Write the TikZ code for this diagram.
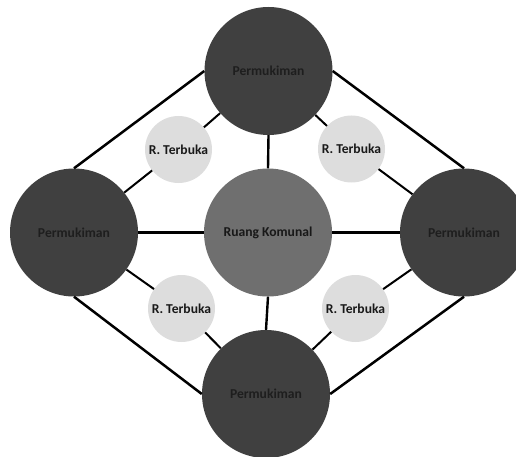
\documentclass[tikz,border=0pt]{standalone}
\usepackage{fontspec}
\setmainfont{Carlito}
\begin{document}
\begin{tikzpicture}[x=1pt,y=-1pt,
  lbl/.style={font=\bfseries\fontsize{13.6}{15}\selectfont},
  big/.style={circle,fill=darkc,minimum size=128pt,inner sep=0pt,lbl,text=txtd},
  mid/.style={circle,fill=midc,minimum size=128pt,inner sep=0pt,lbl,text=txtc},
  small/.style={circle,fill=lightc,minimum size=67pt,inner sep=0pt,lbl,text=black!90},
  outer/.style={line width=2.5pt,black},
  inner/.style={line width=2.4pt,black},
  thin/.style={line width=2pt,black}]
\definecolor{darkc}{HTML}{404040}
\definecolor{midc}{HTML}{6F6F6F}
\definecolor{lightc}{HTML}{DDDDDD}
\definecolor{txtd}{HTML}{1E1E1E}
\definecolor{txtc}{HTML}{181818}
\useasboundingbox (0,0) rectangle (516,457);
\begin{scope}
\clip (0,0) rectangle (516,457);
\node[big] (top) at (268.5,71) {Permukiman};
\node[big] (left) at (74,232.5) {Permukiman};
\node[big] (right) at (464,232.5) {Permukiman};
\node[big] (bot) at (266,394) {Permukiman};
\node[mid] (cen) at (268,232.5) {Ruang Komunal};
\node[small] (tl) at (178.5,149.5) {R. Terbuka};
\node[small] (tr) at (351.5,149) {R. Terbuka};
\node[small] (bl) at (181.5,308.5) {R. Terbuka};
\node[small] (br) at (355.5,308.5) {R. Terbuka};
\draw[outer] (top.west) -- (left.north);
\draw[outer] (top.east) -- (right.north);
\draw[outer] (left.south) -- (bot.west);
\draw[outer] (right.south) -- (bot.east);
\draw[inner] (top.south) -- (cen.north);
\draw[inner] (cen.south) -- (bot.north);
\draw[inner] (left.east) -- (cen.west);
\draw[inner] (cen.east) -- (right.west);
\draw[thin] (tl) -- (top);
\draw[thin] (tl) -- (left);
\draw[thin] (tr) -- (top);
\draw[thin] (tr) -- (right);
\draw[thin] (bl) -- (left);
\draw[thin] (bl) -- (bot);
\draw[thin] (br) -- (right);
\draw[thin] (br) -- (bot);
\end{scope}
\end{tikzpicture}
\end{document}
